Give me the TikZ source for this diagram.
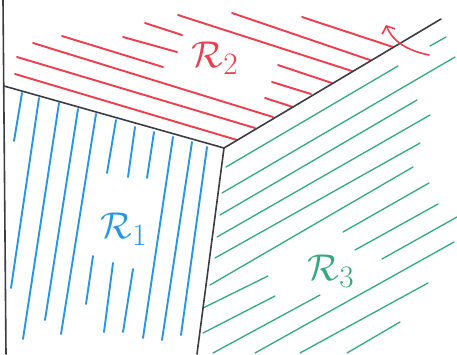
\documentclass[tikz,border=0pt]{standalone}
\usepackage{amsmath,amssymb}
\usepackage{xcolor}
\usepackage{tikz}
\usetikzlibrary{arrows.meta}
\definecolor{regred}{RGB}{238,62,78}
\definecolor{regblue}{RGB}{40,150,230}
\definecolor{reggreen}{RGB}{50,170,125}
\definecolor{edgegray}{RGB}{60,60,68}
\newcommand{\reglab}[1]{\scalebox{1.5}{$\mathcal{R}_{#1}$}}
\begin{document}
\begin{tikzpicture}[x=1pt, y=-1pt, line cap=round,
  edge/.style={draw=edgegray, line width=1.6pt},
  hatchred/.style={draw=regred, line width=1.9pt},
  hatchblue/.style={draw=regblue, line width=1.9pt},
  hatchgreen/.style={draw=reggreen, line width=1.3pt},
  reglabel/.style={font=\fontsize{24.88}{25}\selectfont, inner sep=0pt}]
\useasboundingbox (0,0) rectangle (457,354);
\fill[white] (0,0) rectangle (457,354);
\coordinate (tl) at (3,0);
\coordinate (bl) at (6,354);
\coordinate (lm) at (4,86);
\coordinate (cm) at (224,148);
\coordinate (tr) at (441,19);
\coordinate (bm) at (197,354);
% hatching
\foreach \xa/\ya/\xb/\yb in {15/74/237/140, 17/57/255/128, 33/43/273/117, 62/36/163/67, 123/37/177/52, 145/23/182/35, 178/15/352/71, 232/13/370/60, 302/17/393/47, 278/65/332/83, 272/82/311/94, 265/98/293/107}
  \draw[hatchred] (\xa,\ya)--(\xb,\yb);
\foreach \xa/\ya/\xb/\yb in {22/93/14/141, 39/98/11/288, 59/103/23/339, 78/109/45/320, 96/114/61/334, 116/120/107/173, 135/127/128/177, 154/132/147/178, 173/137/143/338, 192/142/162/340, 207/147/181/335, 93/256/86/304, 113/263/104/332, 133/269/123/332}
  \draw[hatchblue] (\xa,\ya)--(\xb,\yb);
\foreach \xa/\ya/\xb/\yb in {430/46/446/37, 226/167/398/66, 222/193/455/57, 220/215/417/100, 217/237/430/115, 215/258/420/143, 210/285/413/167, 343/232/429/183, 355/250/438/204, 382/259/457/217, 203/308/268/276, 203/333/275/296, 213/353/320/295, 255/353/454/242, 300/353/428/283, 347/353/400/322}
  \draw[hatchgreen] (\xa,\ya)--(\xb,\yb);
% borders
\draw[edge] (tl)--(bl);
\draw[edge] (lm)--(cm)--(tr);
\draw[edge] (cm)--(bm);
% orientation arrow
\coordinate (arrs) at (429,55);
\coordinate (arre) at (386,25);
\draw[regred, line width=1.6pt, -{Straight Barb[length=6pt,width=14pt]}] (arrs) .. controls (405,50) and (392,40) .. (arre);
\node[reglabel, text=regblue] (lab1) at (124,229) {\reglab{1}};
\node[reglabel, text=regred] (lab2) at (215,58) {\reglab{2}};
\node[reglabel, text=reggreen] (lab3) at (331,271) {\reglab{3}};
\end{tikzpicture}
\end{document}
